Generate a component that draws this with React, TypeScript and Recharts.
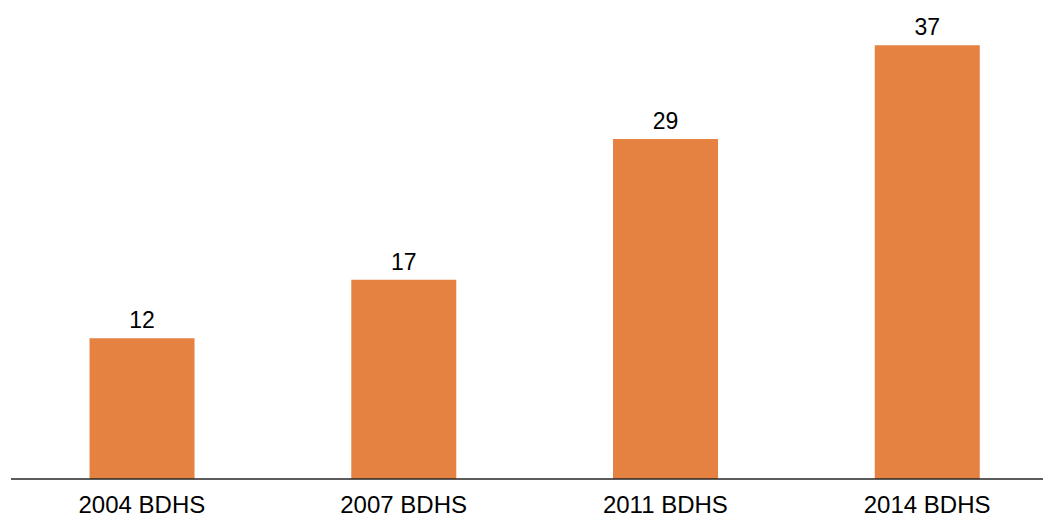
import { BarChart, Bar, XAxis, YAxis, LabelList } from 'recharts';

const surveys = ['2004 BDHS', '2007 BDHS', '2011 BDHS', '2014 BDHS'];
const values = [12, 17, 29, 37];

const data = surveys.map((name, i) => ({ name, value: values[i] }));

const font = 'Arial, "Liberation Sans", sans-serif';

export default function App() {
  return (
    <div style={{ position: 'absolute', left: 0, top: 0, width: 1043, height: 518, overflow: 'hidden', background: '#fff' }}>
      <BarChart
        width={1060}
        height={518}
        data={data}
        margin={{ top: 10, right: 2, left: 11, bottom: 0 }}
        barCategoryGap="30%"
      >
        <XAxis
          dataKey="name"
          height={39}
          tickLine={false}
          tickSize={0}
          tickMargin={17}
          axisLine={{ stroke: '#262626', strokeWidth: 1.3 }}
          tick={{ fill: '#000', fontSize: 24, fontFamily: font }}
          interval={0}
        />
        <YAxis hide domain={[0, 40]} />
        <Bar dataKey="value" fill="#E58141" isAnimationActive={false}>
          <LabelList
            dataKey="value"
            position="top"
            offset={10}
            style={{ fill: '#000', fontSize: 23, fontFamily: font }}
          />
        </Bar>
      </BarChart>
    </div>
  );
}
